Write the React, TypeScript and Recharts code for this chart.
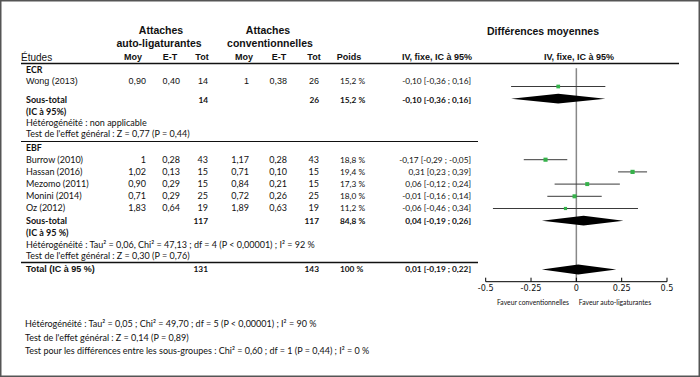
import React from 'react';
import { ComposedChart, Scatter, XAxis, YAxis, ReferenceLine } from 'recharts';

// ---------- data ----------
const studies = ['Wong (2013)', 'Burrow (2010)', 'Hassan (2016)', 'Mezomo (2011)', 'Monini (2014)', 'Oz (2012)'];
const studyGroup = ['ECR', 'EBF', 'EBF', 'EBF', 'EBF', 'EBF'];
const moySL = ['0,90', '1', '1,02', '0,90', '0,71', '1,83'];
const etSL = ['0,40', '0,28', '0,13', '0,29', '0,29', '0,64'];
const totSL = [14, 43, 15, 15, 25, 19];
const moyConv = ['1', '1,17', '0,71', '0,84', '0,72', '1,89'];
const etConv = ['0,38', '0,28', '0,10', '0,21', '0,26', '0,63'];
const totConv = [26, 43, 15, 15, 25, 19];
const weights = [15.2, 18.8, 19.4, 17.3, 18.0, 11.2];
const md = [-0.10, -0.17, 0.31, 0.06, -0.01, -0.06];
const ciLow = [-0.36, -0.29, 0.23, -0.12, -0.16, -0.46];
const ciHigh = [0.16, -0.05, 0.39, 0.24, 0.14, 0.34];
const studyRows = [2, 8, 9, 10, 11, 12];

const subNames = ['ECR', 'EBF', 'Total'];
const subTotSL = [14, 117, 131];
const subTotConv = [26, 117, 143];
const subWeight = [15.2, 84.8, 100];
const subMd = [-0.10, 0.04, 0.01];
const subLow = [-0.36, -0.19, -0.19];
const subHigh = [0.16, 0.26, 0.22];
const subRows = [3, 13, 17];

const xTicks = [-0.5, -0.25, 0, 0.25, 0.5];
const favourLabels = ['Faveur conventionnelles', 'Faveur auto-ligaturantes'];

const hetECR = 'Hétérogénéité : non applicable';
const testECR = "Test de l'effet général : Z = 0,77 (P = 0,44)";
const hetEBF = 'Hétérogénéité : Tau² = 0,06, Chi² = 47,13 ; df = 4 (P < 0,00001) ; I² = 92 %';
const testEBF = "Test de l'effet général : Z = 0,30 (P = 0,76)";
const hetAll = 'Hétérogénéité : Tau² = 0,05 ; Chi² = 49,70 ; df = 5 (P < 0,00001) ; I² = 90 %';
const testAll = "Test de l'effet général : Z = 0,14 (P = 0,89)";
const testSub = 'Test pour les différences entre les sous-groupes : Chi² = 0,60 ; df = 1 (P = 0,44) ; I² = 0 %';

// ---------- helpers ----------
const f2 = (v: number) => v.toFixed(2).replace('.', ',');
const ciText = (m: number, l: number, h: number) => `${f2(m)} [${f2(l)} ; ${f2(h)}]`;
const wText = (w: number) => (w >= 100 ? '100 %' : `${w.toFixed(1).replace('.', ',')} %`);

const pointData = md.map((m, i) => ({ x: m, y: studyRows[i], w: weights[i] }));
const ciData = md.flatMap((_, i) => [
  { x: ciLow[i], y: studyRows[i] },
  { x: ciHigh[i], y: studyRows[i] },
]);
const H = 0.4;
const diamondData = subMd.flatMap((m, i) => [
  { x: subLow[i], y: subRows[i] },
  { x: m, y: subRows[i] - H },
  { x: subHigh[i], y: subRows[i] },
  { x: m, y: subRows[i] + H },
]);

const ciLine = (props: any) => {
  const pts = props.points || [];
  const segs = [];
  for (let i = 0; i + 1 < pts.length; i += 2) {
    segs.push(
      <line key={i} x1={pts[i].x} y1={pts[i].y} x2={pts[i + 1].x} y2={pts[i + 1].y} stroke="#3a3a3a" strokeWidth={1} />
    );
  }
  return <g>{segs}</g>;
};

const diamondLine = (props: any) => {
  const pts = props.points || [];
  const polys = [];
  for (let i = 0; i + 3 < pts.length; i += 4) {
    polys.push(
      <polygon key={i} points={pts.slice(i, i + 4).map((p: any) => `${p.x},${p.y}`).join(' ')} fill="#000" stroke="none" />
    );
  }
  return <g>{polys}</g>;
};

const squareShape = (props: any) => {
  const { cx, cy, payload } = props;
  const s = Math.sqrt(payload.w) * 0.95;
  return <rect x={cx - s / 2} y={cy - s / 2} width={s} height={s} fill="#35b24a" />;
};

const noShape = () => <g />;

// ---------- table overlay ----------
const ARIAL = '"Liberation Sans", Arial, sans-serif';
const CAL = 'Lato, "Open Sans", sans-serif';
const CS = 9; // calibri-like text size

const colMoy1 = 146, colEt1 = 180, colTot1 = 208, colMoy2 = 249, colEt2 = 287, colTot2 = 319;
const colPoids = 340, colCI = 471;
const studyBase = [84.3, 162.8, 174.8, 186.8, 198.8, 210.8];

function Table() {
  const T = (p: any) => <text fill="#111" {...p} />;
  return (
    <svg width={700} height={377} style={{ position: 'absolute', left: 0, top: 0, pointerEvents: 'none' }}>
      <rect x={0.75} y={0.75} width={698.5} height={375.5} fill="none" stroke="#555" strokeWidth={1.5} />
      {/* headers */}
      <T x={161} y={34} textAnchor="middle" fontFamily={ARIAL} fontWeight="bold" fontSize={10.5}>Attaches</T>
      <T x={159} y={47} textAnchor="middle" fontFamily={ARIAL} fontWeight="bold" fontSize={10.5}>auto-ligaturantes</T>
      <T x={268} y={34} textAnchor="middle" fontFamily={ARIAL} fontWeight="bold" fontSize={10.5}>Attaches</T>
      <T x={270} y={47} textAnchor="middle" fontFamily={ARIAL} fontWeight="bold" fontSize={10.5}>conventionnelles</T>
      <T x={543} y={35} textAnchor="middle" fontFamily={ARIAL} fontWeight="bold" fontSize={10.5}>Différences moyennes</T>
      <T x={21} y={60.5} fontFamily={ARIAL} fontSize={10}>Études</T>
      {[['Moy', 133], ['E-T', 170], ['Tot', 202], ['Moy', 244], ['E-T', 279], ['Tot', 314], ['Poids', 349]].map(([t, x], i) => (
        <T key={i} x={x} y={59.5} textAnchor="middle" fontFamily={ARIAL} fontWeight="bold" fontSize={9}>{t}</T>
      ))}
      <T x={437} y={59.5} textAnchor="middle" fontFamily={ARIAL} fontWeight="bold" fontSize={9}>IV, fixe, IC à 95%</T>
      <T x={579} y={59.5} textAnchor="middle" fontFamily={ARIAL} fontWeight="bold" fontSize={9}>IV, fixe, IC à 95%</T>
      <line x1={21} x2={679} y1={63.5} y2={63.5} stroke="#111" strokeWidth={1.6} />

      {/* ECR group */}
      <T x={26} y={73.3} fontFamily={CAL} fontWeight="bold" fontSize={8.8}>{subNames[0]}</T>
      {studies.map((s, i) => {
        const ff = i === 0 ? ARIAL : CAL;
        const fs = i === 0 ? 9 : CS;
        const y = studyBase[i];
        return (
          <g key={s}>
            <T x={26} y={y} fontFamily={ff} fontSize={fs}>{s}</T>
            <T x={colMoy1} y={y} textAnchor="end" fontFamily={ff} fontSize={fs}>{moySL[i]}</T>
            <T x={colEt1} y={y} textAnchor="end" fontFamily={ff} fontSize={fs}>{etSL[i]}</T>
            <T x={colTot1} y={y} textAnchor="end" fontFamily={ff} fontSize={fs}>{totSL[i]}</T>
            <T x={colMoy2} y={y} textAnchor="end" fontFamily={ff} fontSize={fs}>{moyConv[i]}</T>
            <T x={colEt2} y={y} textAnchor="end" fontFamily={ff} fontSize={fs}>{etConv[i]}</T>
            <T x={colTot2} y={y} textAnchor="end" fontFamily={ff} fontSize={fs}>{totConv[i]}</T>
            <T x={colPoids} y={y} fontFamily={CAL} fontSize={8.3}>{wText(weights[i])}</T>
            <T x={colCI} y={y} textAnchor="end" fontFamily={CAL} fontSize={8.3}>{ciText(md[i], ciLow[i], ciHigh[i])}</T>
          </g>
        );
      })}
      {/* ECR subtotal */}
      <T x={26} y={103.3} fontFamily={CAL} fontWeight="bold" fontSize={CS}>Sous-total</T>
      <T x={26} y={115.3} fontFamily={CAL} fontWeight="bold" fontSize={CS}>(IC à 95%)</T>
      <T x={colTot1} y={103.3} textAnchor="end" fontFamily={CAL} fontWeight="bold" fontSize={8.3}>{subTotSL[0]}</T>
      <T x={colTot2} y={103.3} textAnchor="end" fontFamily={CAL} fontWeight="bold" fontSize={8.3}>{subTotConv[0]}</T>
      <T x={colPoids} y={103.3} fontFamily={CAL} fontWeight="bold" fontSize={8.3}>{wText(subWeight[0])}</T>
      <T x={colCI} y={103.3} textAnchor="end" fontFamily={CAL} fontWeight="bold" fontSize={8.3}>{ciText(subMd[0], subLow[0], subHigh[0])}</T>
      <T x={26} y={126.3} fontFamily={CAL} fontSize={CS}>{hetECR}</T>
      <T x={26} y={137.3} fontFamily={CAL} fontSize={CS}>{testECR}</T>
      <line x1={21} x2={478} y1={141.5} y2={141.5} stroke="#111" strokeWidth={1} />

      {/* EBF group */}
      <T x={26} y={151.3} fontFamily={CAL} fontWeight="bold" fontSize={8.8}>{studyGroup[1]}</T>
      <T x={26} y={224.3} fontFamily={CAL} fontWeight="bold" fontSize={CS}>Sous-total</T>
      <T x={26} y={235.8} fontFamily={CAL} fontWeight="bold" fontSize={CS}>(IC à 95 %)</T>
      <T x={colTot1} y={224.3} textAnchor="end" fontFamily={CAL} fontWeight="bold" fontSize={8.3}>{subTotSL[1]}</T>
      <T x={colTot2} y={224.3} textAnchor="end" fontFamily={CAL} fontWeight="bold" fontSize={8.3}>{subTotConv[1]}</T>
      <T x={colPoids} y={224.3} fontFamily={CAL} fontWeight="bold" fontSize={8.3}>{wText(subWeight[1])}</T>
      <T x={colCI} y={224.3} textAnchor="end" fontFamily={CAL} fontWeight="bold" fontSize={8.3}>{ciText(subMd[1], subLow[1], subHigh[1])}</T>
      <T x={26} y={247.8} fontFamily={CAL} fontSize={CS}>{hetEBF}</T>
      <T x={26} y={259.3} fontFamily={CAL} fontSize={CS}>{testEBF}</T>
      <line x1={21} x2={478} y1={262.5} y2={262.5} stroke="#111" strokeWidth={1.5} />

      {/* Total */}
      <T x={26} y={271.6} fontFamily={ARIAL} fontWeight="bold" fontSize={9}>Total (IC à 95 %)</T>
      <T x={colTot1} y={271.6} textAnchor="end" fontFamily={CAL} fontWeight="bold" fontSize={8.3}>{subTotSL[2]}</T>
      <T x={colTot2} y={271.6} textAnchor="end" fontFamily={CAL} fontWeight="bold" fontSize={8.3}>{subTotConv[2]}</T>
      <T x={colPoids} y={271.6} fontFamily={CAL} fontWeight="bold" fontSize={8.3}>{wText(subWeight[2])}</T>
      <T x={colCI} y={271.6} textAnchor="end" fontFamily={CAL} fontWeight="bold" fontSize={8.3}>{ciText(subMd[2], subLow[2], subHigh[2])}</T>

      {/* favour labels */}
      <T x={533} y={304.5} textAnchor="middle" fontFamily={CAL} fontSize={6.8}>{favourLabels[0]}</T>
      <T x={615} y={304.5} textAnchor="middle" fontFamily={CAL} fontSize={6.8}>{favourLabels[1]}</T>

      {/* footer */}
      <T x={25} y={326.6} fontFamily={CAL} fontSize={CS}>{hetAll}</T>
      <T x={25} y={340.6} fontFamily={CAL} fontSize={CS}>{testAll}</T>
      <T x={25} y={354} fontFamily={CAL} fontSize={CS}>{testSub}</T>
    </svg>
  );
}

export default function App() {
  return (
    <div style={{ position: 'absolute', left: 0, top: 0, width: 700, height: 377, background: '#fff' }}>
      <div style={{ position: 'absolute', left: 0, top: 0 }}>
        <ComposedChart width={700} height={377} margin={{ top: 62.1, left: 485.7, right: 33, bottom: 75.3 }}>
          <XAxis
            type="number"
            dataKey="x"
            domain={[-0.5, 0.5]}
            ticks={xTicks}
            allowDataOverflow
            height={20}
            stroke="#000"
            tickSize={-4}
            tickMargin={7}
            tick={{ fill: '#111', fontSize: 9, fontFamily: '"Liberation Sans Narrow", "DejaVu Sans Condensed", sans-serif' }}
            tickFormatter={(v: number) => String(v)}
          />
          <YAxis type="number" dataKey="y" domain={[0, 18]} reversed hide allowDataOverflow />
          <ReferenceLine segment={[{ x: 0, y: 0.5 }, { x: 0, y: 18 }]} stroke="#888" strokeWidth={1.5} />
          <Scatter data={ciData} isAnimationActive={false} shape={noShape} line={ciLine} lineType="joint" />
          <Scatter data={diamondData} isAnimationActive={false} shape={noShape} line={diamondLine} lineType="joint" />
          <Scatter data={pointData} isAnimationActive={false} shape={squareShape} />
        </ComposedChart>
      </div>
      <Table />
    </div>
  );
}
